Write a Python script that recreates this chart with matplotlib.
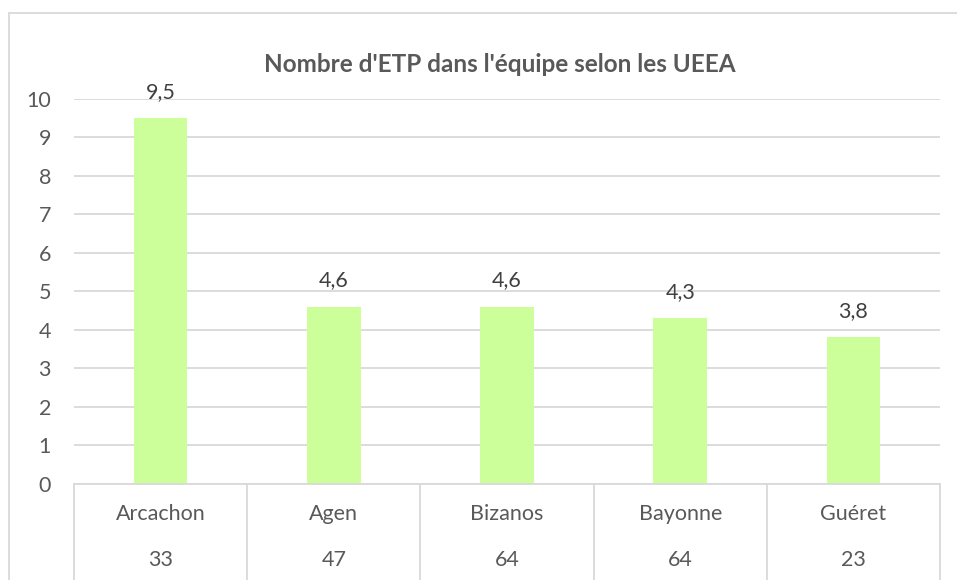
import matplotlib.pyplot as plt
from matplotlib.patches import Rectangle
import matplotlib.transforms as mtransforms

plt.rcParams['font.family'] = ['Lato', 'DejaVu Sans']

# données
villes = ['Arcachon', 'Agen', 'Bizanos', 'Bayonne', 'Guéret']
departements = ['33', '47', '64', '64', '23']
etp = [9.5, 4.6, 4.6, 4.3, 3.8]

gris_texte = '#595959'
gris_ligne = '#D9D9D9'

W, H = 957, 580
fig = plt.figure(figsize=(W / 100, H / 100), dpi=100)

# cadre du graphique
fig.patches.append(Rectangle((9 / W, -0.1), 1.2, 1 - 13 / H + 0.1,
                             transform=fig.transFigure, fill=False,
                             edgecolor=gris_ligne, linewidth=1.3))

x0, x1 = 74, 940
y_bas, y_haut = 483.5, 99
ax = fig.add_axes([x0 / W, 1 - y_bas / H, (x1 - x0) / W, (y_bas - y_haut) / H])

pos = range(len(villes))
ax.bar(pos, etp, width=0.31, color='#CCFF99', zorder=2)
ax.set_xlim(-0.5, len(villes) - 0.5)
ax.set_ylim(0, 10)
ax.set_yticks(range(11))
ax.yaxis.grid(True, color=gris_ligne, linewidth=1.3, zorder=0)
ax.set_xticks([])
for s in ax.spines.values():
    s.set_visible(False)
ax.tick_params(axis='y', length=0, pad=16.5, labelsize=15.5, labelcolor=gris_texte)

for i, v in enumerate(etp):
    ax.annotate(f'{v:.1f}'.replace('.', ','), (i, v), xytext=(0, 19),
                textcoords='offset points', ha='center', va='center',
                fontsize=15.5, color='#404040')

# axe des catégories à deux niveaux
tr = mtransforms.blended_transform_factory(ax.transData, ax.transAxes)
px = 1 / (y_bas - y_haut)
ax.plot([-0.5, len(villes) - 0.5], [0, 0], transform=tr, color=gris_ligne,
        linewidth=1.3, clip_on=False, zorder=3)
for b in range(len(villes) + 1):
    ax.plot([b - 0.5, b - 0.5], [0, -100 * px], transform=tr, color=gris_ligne,
            linewidth=1.3, clip_on=False)
for i in pos:
    ax.text(i, -31 * px, villes[i], transform=tr, ha='center', va='center',
            fontsize=15.5, color=gris_texte)
    ax.text(i, -76 * px, departements[i], transform=tr, ha='center', va='center',
            fontsize=15.5, color=gris_texte)

fig.text(500 / W, 1 - 65 / H, "Nombre d'ETP dans l'équipe selon les UEEA",
         ha='center', va='center', fontsize=17.5, fontweight='bold', color=gris_texte)

fig.savefig('out.png', dpi=100)
